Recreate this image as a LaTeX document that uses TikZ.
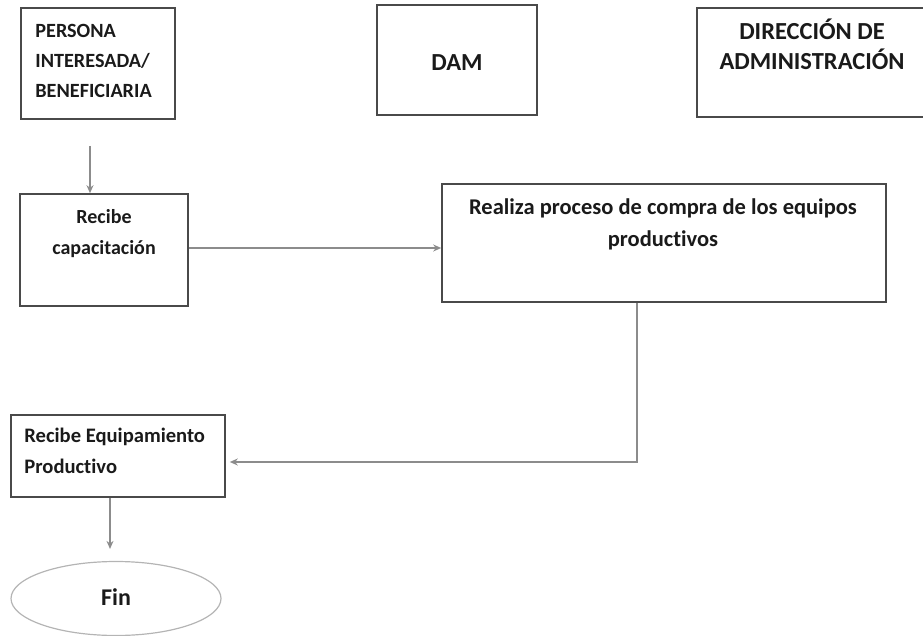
\documentclass[tikz,border=0pt]{standalone}
\usepackage{fontspec}
\setmainfont{Carlito}[Ligatures=NoCommon]
\usepackage{tikz}
\usetikzlibrary{arrows.meta,positioning,calc,shapes.geometric}

\definecolor{boxgray}{HTML}{4A4A4A}
\definecolor{linkgray}{HTML}{8C8C8C}
\definecolor{fingray}{HTML}{B4B4B4}
\definecolor{txtblack}{HTML}{1A1A1A}

\tikzset{
  caja/.style={draw=boxgray, line width=1.6pt, inner sep=0pt},
  texto/.style={font=\bfseries\fontsize{20.2}{30}\selectfont, text=txtblack, inner sep=0pt},
  titulo/.style={font=\bfseries\fontsize{24.5}{30}\selectfont, text=txtblack, inner sep=0pt, align=center},
  flecha/.style={draw=linkgray, line width=1.2pt, -{Stealth[length=8pt,width=7pt]}}
}

\begin{document}
\begin{tikzpicture}[x=1pt,y=-1pt]
    \useasboundingbox (0,0) rectangle (923,636);
    \clip (0,0) rectangle (923,636);

    % cabeceras
    \node[caja, minimum width=154, minimum height=111] (pers) at (98,63.5) {};
    \node[texto, align=left, anchor=north west] (persT) at ([xshift=15pt,yshift=-17pt]pers.north west)
        {PERSONA\\INTERESADA/\\BENEFICIARIA};

    \node[caja, minimum width=160, minimum height=110] (dam) at (457,60) {};
    \node[titulo] (damT) at (457,63) {DAM};

    % esta caja se sale por la derecha
    \node[caja, minimum width=250, minimum height=109] (dir) at (822,62.5) {};
    \node[titulo, anchor=north] (dirT) at (812,19) {DIRECCIÓN DE\\ADMINISTRACIÓN};

    % pasos
    \node[caja, minimum width=168, minimum height=112] (cap) at (104,250) {};
    \node[texto, font=\bfseries\fontsize{20}{31}\selectfont, align=center, anchor=north] (capT)
        at ([yshift=-16pt]cap.north) {Recibe\\capacitación};

    \node[caja, minimum width=444, minimum height=118] (compra) at (664,243) {};
    \node[texto, font=\bfseries\fontsize{22.5}{32}\selectfont, align=center, anchor=north] (compraT)
        at ([xshift=-1pt,yshift=-15pt]compra.north) {Realiza proceso de compra de los equipos\\productivos};

    \node[caja, minimum width=214, minimum height=82] (equip) at (118,456) {};
    \node[texto, font=\bfseries\fontsize{20.6}{31}\selectfont, align=left, anchor=north west] (equipT)
        at ([xshift=14pt,yshift=-14pt]equip.north west) {Recibe Equipamiento\\Productivo};

    \node[ellipse, draw=fingray, line width=1.2pt, minimum width=210, minimum height=74] (fin) at (116,598.5) {};
    \node[texto, font=\bfseries\fontsize{24}{28}\selectfont] (finT) at (116,597) {Fin};

    % conexiones
    \draw[flecha] ([xshift=-8pt,yshift=-26pt]pers.south) -- ([xshift=-14pt]cap.north);
    \draw[flecha] ([yshift=2pt]cap.east) -- ([yshift=2pt]cap.east -| compra.west);
    \draw[flecha] ([xshift=-27pt]compra.south) |- ([yshift=-6pt,xshift=4pt]equip.east);
    \draw[flecha] ([xshift=-8pt]equip.south) -- ([xshift=-6pt,yshift=12pt]fin.north);
\end{tikzpicture}
\end{document}
